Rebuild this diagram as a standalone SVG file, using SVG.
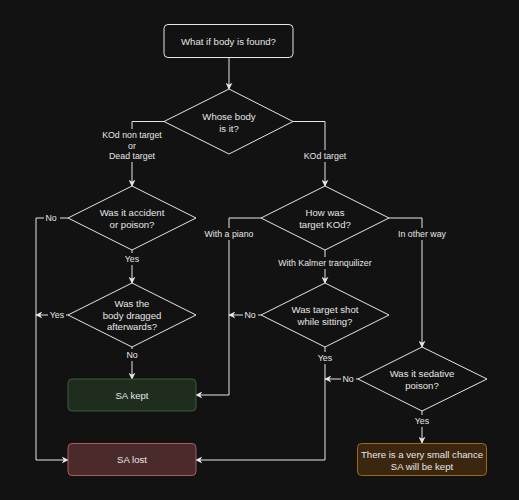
<svg xmlns="http://www.w3.org/2000/svg" width="519" height="500" viewBox="0 0 519 500">
<defs>
<marker id="arr" viewBox="0 0 10 10" refX="9" refY="5" markerWidth="7" markerHeight="7" markerUnits="userSpaceOnUse" orient="auto">
<path d="M0,0 L10,5 L0,10 L3,5 Z" fill="#e6e6e6"/>
</marker>
<style>
.bg{fill:#121212}
.n{fill:#121212;stroke:#e6e6e6;stroke-width:1}
.t{font-family:"Liberation Sans",Arial,sans-serif;font-size:9.6px;fill:#e6e6e6;text-anchor:middle;dominant-baseline:central}
.l{font-family:"Liberation Sans",Arial,sans-serif;font-size:8.8px;fill:#e6e6e6;text-anchor:middle;dominant-baseline:central}
.lb{fill:#121212}
.c{fill:none;stroke:#e6e6e6;stroke-width:1}
.ca{fill:none;stroke:#e6e6e6;stroke-width:1;marker-end:url(#arr)}
</style>
</defs>
<rect class="bg" x="0" y="0" width="519" height="500"/>
<g id="connectors">
<path class="ca" d="M229,57 V89"/>
<path class="ca" d="M164,121.5 H132 V186"/>
<path class="ca" d="M293,121.5 H325 V186"/>
<path class="ca" d="M68,218 H36 V460 H68"/>
<path class="ca" d="M132,250 V283"/>
<path class="ca" d="M68,315 H36"/>
<path class="ca" d="M132,347 V379"/>
<path class="ca" d="M261,218 H229 V395 H196"/>
<path class="ca" d="M389,218 H422 V347"/>
<path class="ca" d="M325,250 V283"/>
<path class="ca" d="M261,315 H229"/>
<path class="ca" d="M325,347 V460 H196"/>
<path class="ca" d="M358,379 H325"/>
<path class="ca" d="M422,411 V443"/>
</g>
<g id="edge-labels">
<rect class="lb" x="101" y="129" width="62" height="33"/>
<text class="l" x="132" y="135">KOd non target</text>
<text class="l" x="132" y="146">or</text>
<text class="l" x="132" y="156">Dead target</text>
<rect class="lb" x="303" y="150" width="44" height="12"/>
<text class="l" x="325" y="156">KOd target</text>
<rect class="lb" x="44" y="212" width="16" height="12"/>
<text class="l" x="51" y="218">No</text>
<rect class="lb" x="122" y="253" width="20" height="12"/>
<text class="l" x="132" y="259">Yes</text>
<rect class="lb" x="48" y="309" width="18" height="12"/>
<text class="l" x="57" y="315">Yes</text>
<rect class="lb" x="124" y="349" width="16" height="12"/>
<text class="l" x="132" y="355">No</text>
<rect class="lb" x="204" y="228" width="50" height="12"/>
<text class="l" x="229" y="234">With a piano</text>
<rect class="lb" x="396" y="228" width="52" height="12"/>
<text class="l" x="422" y="234">In other way</text>
<rect class="lb" x="276" y="257" width="98" height="12"/>
<text class="l" x="325" y="263">With Kalmer tranquilizer</text>
<rect class="lb" x="243" y="309" width="15" height="12"/>
<text class="l" x="250" y="315">No</text>
<rect class="lb" x="315" y="352" width="20" height="12"/>
<text class="l" x="325" y="358">Yes</text>
<rect class="lb" x="341" y="373" width="15" height="12"/>
<text class="l" x="348" y="379">No</text>
<rect class="lb" x="412" y="415" width="20" height="12"/>
<text class="l" x="422" y="421">Yes</text>
</g>
<g id="start">
<rect class="n" x="164" y="24.5" width="129" height="33" rx="4"/>
<text class="t" x="228.5" y="41">What if body is found?</text>
</g>
<g id="whose-body">
<path class="n" d="M229,89 L293,121.5 L229,154 L164,121.5 Z"/>
<text class="t" x="229" y="116">Whose body</text>
<text class="t" x="229" y="128">is it?</text>
</g>
<g id="accident-poison">
<path class="n" d="M132,186 L196,218 L132,250 L68,218 Z"/>
<text class="t" x="132" y="212">Was it accident</text>
<text class="t" x="132" y="224">or poison?</text>
</g>
<g id="body-dragged">
<path class="n" d="M132,283 L196,315 L132,347 L68,315 Z"/>
<text class="t" x="132" y="303">Was the</text>
<text class="t" x="132" y="315">body dragged</text>
<text class="t" x="132" y="326">afterwards?</text>
</g>
<g id="how-kod">
<path class="n" d="M325,186 L389,218 L325,250 L261,218 Z"/>
<text class="t" x="325" y="212">How was</text>
<text class="t" x="325" y="224">target KOd?</text>
</g>
<g id="shot-sitting">
<path class="n" d="M325,283 L389,315 L325,347 L261,315 Z"/>
<text class="t" x="325" y="309">Was target shot</text>
<text class="t" x="325" y="321">while sitting?</text>
</g>
<g id="sedative">
<path class="n" d="M422,347 L487,379 L422,411 L358,379 Z"/>
<text class="t" x="422" y="373">Was it sedative</text>
<text class="t" x="422" y="385">poison?</text>
</g>
<g id="sa-kept">
<rect x="68" y="379" width="128" height="32" rx="4" fill="#1f2d1f" stroke="#3b5e36" stroke-width="1"/>
<text class="t" x="132" y="395">SA kept</text>
</g>
<g id="sa-lost">
<rect x="68" y="443.5" width="128" height="32" rx="4" fill="#4a2a2a" stroke="#a85c5c" stroke-width="1"/>
<text class="t" x="132" y="459.5">SA lost</text>
</g>
<g id="small-chance">
<rect x="357.5" y="443.5" width="129" height="32" rx="4" fill="#3b2610" stroke="#9c6a1f" stroke-width="1"/>
<text class="t" x="422" y="454">There is a very small chance</text>
<text class="t" x="422" y="466">SA will be kept</text>
</g>
</svg>
